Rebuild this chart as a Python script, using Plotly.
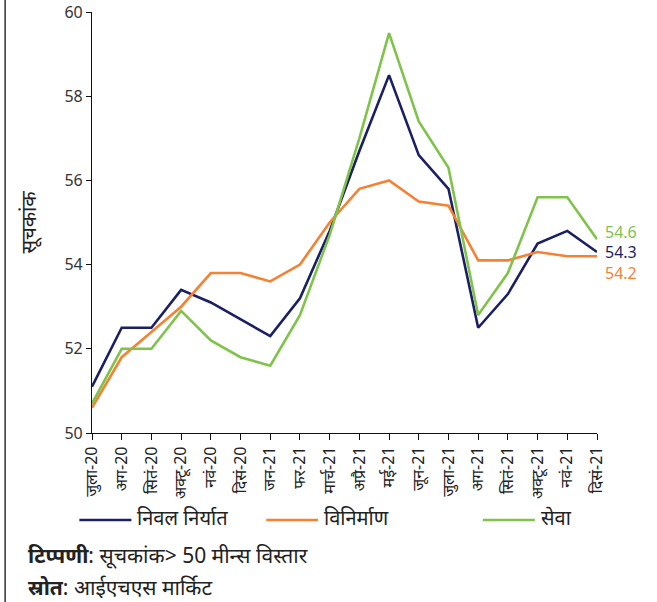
import plotly.graph_objects as go

# Monthly PMI readings, Jul-2020 to Dec-2021
months = ["जुला-20", "अग-20", "सितं-20", "अक्टू-20", "नवं-20", "दिसं-20",
          "जन-21", "फर-21", "मार्च-21", "अप्रै-21", "मई-21", "जून-21",
          "जुला-21", "अग-21", "सितं-21", "अक्टू-21", "नवं-21", "दिसं-21"]

net_exports = [51.1, 52.5, 52.5, 53.4, 53.1, 52.7, 52.3, 53.2, 54.8, 56.7,
               58.5, 56.6, 55.8, 52.5, 53.3, 54.5, 54.8, 54.3]
manufacturing = [50.6, 51.8, 52.4, 53.0, 53.8, 53.8, 53.6, 54.0, 55.0, 55.8,
                 56.0, 55.5, 55.4, 54.1, 54.1, 54.3, 54.2, 54.2]
services = [50.7, 52.0, 52.0, 52.9, 52.2, 51.8, 51.6, 52.8, 54.7, 57.0,
            59.5, 57.4, 56.3, 52.8, 53.8, 55.6, 55.6, 54.6]

names = ["निवल निर्यात", "विनिर्माण", "सेवा"]
colors = ["#1b1f63", "#f58233", "#80c34a"]
series = [net_exports, manufacturing, services]

FONT = "Noto Sans, Noto Sans Devanagari, sans-serif"

fig = go.Figure()
for name, vals, col in zip(names, series, colors):
    fig.add_trace(go.Scatter(
        x=months, y=vals, mode="lines", name=name,
        line=dict(color=col, width=2.6), showlegend=False,
    ))

# end-of-line value labels
label_shift = {0: 0, 1: -17, 2: 7}
for i, (vals, col) in enumerate(zip(series, colors)):
    fig.add_annotation(
        x=months[-1], y=vals[-1], text=f"{vals[-1]:.1f}",
        showarrow=False, xanchor="left", yanchor="middle",
        xshift=6, yshift=label_shift[i],
        font=dict(family=FONT, size=16, color=col),
    )

# key row under the x axis: sample line + series name
key_lines = [(-0.025, 0.078), (0.345, 0.4475), (0.774, 0.877)]
for name, col, (k0, k1) in zip(names, colors, key_lines):
    fig.add_shape(type="line", xref="paper", yref="paper",
                  x0=k0, x1=k1, y0=-0.2067, y1=-0.2067,
                  line=dict(color=col, width=2.7))
    fig.add_annotation(
        xref="paper", yref="paper", x=k1 + 0.008, y=-0.201,
        text=name, showarrow=False, xanchor="left", yanchor="middle",
        font=dict(family=FONT, size=20, color="#222222"),
    )

# notes below the chart
fig.add_annotation(
    xref="paper", yref="paper", x=-0.131, y=-0.29,
    text="<b>टिप्पणी</b>: सूचकांक> 50 मीन्स विस्तार",
    showarrow=False, xanchor="left", yanchor="middle",
    font=dict(family=FONT, size=21, color="#222222"),
)
fig.add_annotation(
    xref="paper", yref="paper", x=-0.131, y=-0.366,
    text="<b>स्रोत</b>: आईएचएस मार्किट",
    showarrow=False, xanchor="left", yanchor="middle",
    font=dict(family=FONT, size=21, color="#222222"),
)

# left frame line
fig.add_shape(type="line", xref="paper", yref="paper",
              x0=-0.172, x1=-0.172, y0=-0.405, y1=1.03,
              line=dict(color="#333333", width=1.5))

fig.update_layout(
    width=657, height=602,
    margin=dict(l=92, r=60, t=12, b=169, autoexpand=False),
    paper_bgcolor="white", plot_bgcolor="white",
    font=dict(family=FONT, size=14, color="#333333"),
    showlegend=False,
    xaxis=dict(
        type="category", range=[0, len(months) - 1], automargin=False,
        showline=True, linecolor="#111111", linewidth=1.2,
        ticks="outside", ticklen=6, tickcolor="#111111",
        tickangle=-90, showgrid=False, zeroline=False,
        tickfont=dict(family=FONT, size=16, color="#222222"),
    ),
    yaxis=dict(
        range=[50, 60], dtick=2, showline=True, linecolor="#111111",
        linewidth=1.2, ticks="outside", ticklen=5, tickcolor="#111111",
        showgrid=False, zeroline=False, automargin=False,
        tickfont=dict(family=FONT, size=16, color="#333333"),
        title=dict(text="सूचकांक", standoff=22,
                   font=dict(family=FONT, size=20, color="#222222")),
    ),
)

fig.write_html("out.html")
